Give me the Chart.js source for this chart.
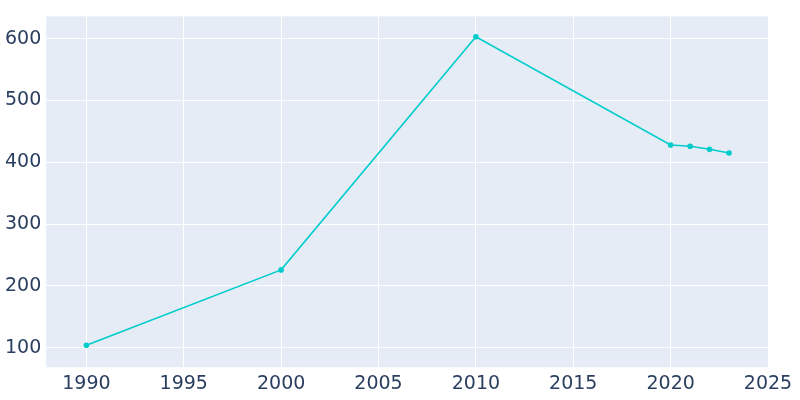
<!DOCTYPE html>
<html>
<head>
<script src="https://cdn.jsdelivr.net/npm/chart.js@4"></script>
<style>body{margin:0;background:#fff}#wrap{width:800px;height:400px}</style>
</head>
<body>
<div id="wrap"><canvas id="c"></canvas></div>
<script>
const years = [1990, 2000, 2010, 2020, 2021, 2022, 2023];
const population = [104, 226, 603, 428, 426, 421, 415];
const xTicks = [1990, 1995, 2000, 2005, 2010, 2015, 2020, 2025];
const yTicks = [100, 200, 300, 400, 500, 600];

const plotBg = {
  id: "plotBg",
  beforeDraw(chart) {
    const a = chart.chartArea, ctx = chart.ctx;
    ctx.save();
    ctx.fillStyle = "#e5ecf6";
    ctx.fillRect(a.left, a.top, a.right - a.left, a.bottom - a.top);
    ctx.restore();
  }
};

new Chart(document.getElementById("c"), {
  type: "line",
  data: {
    datasets: [{
      data: years.map((y, i) => ({ x: y, y: population[i] })),
      borderColor: "#00cccc",
      backgroundColor: "#00cccc",
      borderWidth: 1.6,
      pointRadius: 2,
      tension: 0
    }]
  },
  options: {
    responsive: true,
    maintainAspectRatio: false,
    animation: false,
    layout: { padding: { top: -7, right: 32, left: 0, bottom: 0 } },
    plugins: { legend: { display: false }, tooltip: { enabled: false } },
    scales: {
      x: {
        type: "linear", min: 1987.94, max: 2025,
        afterBuildTicks: s => { s.ticks = xTicks.map(v => ({ value: v })); },
        grid: { color: "#fff", lineWidth: 1, drawTicks: false },
        border: { display: false },
        ticks: { color: "#2a3f5f", font: { family: "DejaVu Sans", size: 19 }, padding: 5, maxRotation: 0, callback: v => String(v) }
      },
      y: {
        min: 68.6, max: 636,
        afterBuildTicks: s => { s.ticks = yTicks.map(v => ({ value: v })); },
        grid: { color: "#fff", lineWidth: 1, drawTicks: false },
        border: { display: false },
        ticks: { color: "#2a3f5f", font: { family: "DejaVu Sans", size: 19 }, padding: 5 }
      }
    }
  },
  plugins: [plotBg]
});
</script>
</body>
</html>
